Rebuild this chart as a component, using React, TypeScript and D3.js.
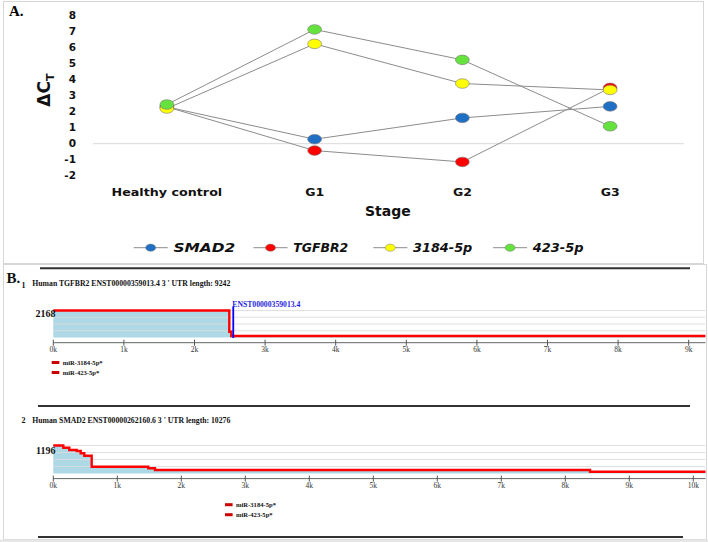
import React from "react";
import * as d3 from "d3";

// ---------- Panel A data ----------
const stages = ["Healthy control", "G1", "G2", "G3"];
const smad2 = [2.3, 0.28, 1.61, 2.33];
const tgfbr2 = [2.3, -0.43, -1.14, 3.49];
const mir3184 = [2.2, 6.24, 3.76, 3.36];
const mir423 = [2.45, 7.14, 5.24, 1.09];
const seriesNames = ["SMAD2", "TGFBR2", "3184-5p", "423-5p"];
const seriesColors = ["#1f6fc5", "#ff0000", "#ffff00", "#66e23e"];
const yTicks = [-2, -1, 0, 1, 2, 3, 4, 5, 6, 7, 8];

// ---------- Panel B data ----------
const tgfbr2UtrStarts = [0, 2493, 2521];
const tgfbr2UtrCounts = [2168, 466, 120];
const tgfbr2UtrLength = 9242;
const tgfbr2Transcript = "ENST00000359013.4";
const tgfbr2TranscriptPos = 2549;

const smad2UtrStarts = [0, 156, 250, 366, 428, 484, 600, 1484, 1589, 8386];
const smad2UtrCounts = [1196, 1102, 1004, 961, 863, 760, 290, 222, 150, 77];
const smad2UtrLength = 10276;

const mirLegend = ["miR-3184-5p*", "miR-423-5p*"];
const gridFractions = [0.25, 0.5, 0.75, 1];

const SANS = "DejaVu Sans, Verdana, sans-serif";
const SERIF = "Liberation Serif, Times New Roman, serif";

function PanelA() {
  const x = d3.scalePoint<string>().domain(stages).range([93, 684]).padding(0.5);
  const y = d3.scaleLinear().domain([-2, 8]).range([175.7, 15.7]);
  const series = [smad2, tgfbr2, mir3184, mir423];
  const line = d3
    .line<number>()
    .x((_, i) => x(stages[i]) as number)
    .y((d) => y(d));
  const labelLen = (s: string) => (s.length > 3 ? 110.7 : 19);
  const legendTextLen = [61.7, 55, 59.3, 50.7];
  return (
    <g>
      <rect x={3.5} y={1.5} width={700} height={262} fill="none" stroke="#d6d6d6" />
      <text x={9} y={16} fontFamily={SERIF} fontWeight="bold" fontSize={15}>A.</text>
      {/* zero line */}
      <line x1={93} x2={684} y1={y(0)} y2={y(0)} stroke="#d9d9d9" strokeWidth={1} />
      {yTicks.map((t) => (
        <text key={t} x={76} y={y(t)} dy="0.36em" textAnchor="end" fontFamily={SANS}
          fontWeight="bold" fontSize={10.5} fill="#111">{t}</text>
      ))}
      <text transform="translate(50,106.7) rotate(-90)" fontFamily={SANS} fontWeight="bold"
        fontSize={17} fill="#111">ΔC<tspan dy={4} fontSize={11}>T</tspan></text>
      {series.map((s, i) => (
        <path key={i} d={line(s) as string} fill="none" stroke="#8c8c8c" strokeWidth={1} />
      ))}
      {series.map((s, i) =>
        s.map((v, j) => (
          <ellipse key={i + "-" + j} cx={x(stages[j]) as number} cy={y(v)} rx={6.9} ry={4.8}
            fill={seriesColors[i]} stroke="#777" strokeWidth={0.6} />
        ))
      )}
      {stages.map((s) => (
        <text key={s} x={x(s) as number} y={191.6} dy="0.36em" textAnchor="middle"
          fontFamily={SANS} fontWeight="bold" fontSize={11} fill="#111"
          textLength={labelLen(s)} lengthAdjust="spacingAndGlyphs">{s}</text>
      ))}
      <text x={387.8} y={210.7} dy="0.36em" textAnchor="middle" fontFamily={SANS}
        fontWeight="bold" fontSize={14} fill="#111">Stage</text>
      {seriesNames.map((n, i) => {
        const cx = 150.7 + i * 119.8;
        const cy = 247.7;
        return (
          <g key={n}>
            <line x1={cx - 17} x2={cx + 17} y1={cy} y2={cy} stroke="#8c8c8c" strokeWidth={1} />
            <ellipse cx={cx} cy={cy} rx={5} ry={3.6} fill={seriesColors[i]} stroke="#777" strokeWidth={0.5} />
            <text x={cx + 22.7} y={cy} dy="0.36em" fontFamily={SANS} fontWeight="bold"
              fontStyle="italic" fontSize={11.5} fill="#111" textLength={legendTextLen[i]}
              lengthAdjust="spacingAndGlyphs">{n}</text>
          </g>
        );
      })}
    </g>
  );
}

type UtrProps = {
  starts: number[];
  counts: number[];
  length: number;
  kPx: number;
  axisY: number;
  baseY: number;
  plotH: number;
  maxLabelDy: number;
  legendX: number;
  legendY: number;
  transcript?: string;
  transcriptPos?: number;
  clipId: string;
};

function UtrProfile(p: UtrProps) {
  const x = d3.scaleLinear().domain([0, p.length]).range([53.3, 53.3 + (p.length / 1000) * p.kPx]);
  const maxC = d3.max(p.counts) as number;
  const y = d3.scaleLinear().domain([0, maxC]).range([p.baseY, p.baseY - p.plotH]);
  const pts = p.starts.map((s, i) => [s, p.counts[i]] as [number, number]);
  pts.push([p.length, p.counts[p.counts.length - 1]]);
  const area = d3
    .area<[number, number]>()
    .x((d) => x(d[0]))
    .y0(p.baseY)
    .y1((d) => y(d[1]))
    .curve(d3.curveStepAfter);
  const line = d3
    .line<[number, number]>()
    .x((d) => x(d[0]))
    .y((d) => y(d[1]))
    .curve(d3.curveStepAfter);
  const ticks = d3.range(0, Math.floor(p.length / 1000) + 1).map((k) => k * 1000);
  const rightX = 705.5;
  return (
    <g>
      <defs>
        <clipPath id={p.clipId}>
          <rect x={40} y={p.baseY - p.plotH - 20} width={rightX - 40} height={p.plotH + 40} />
        </clipPath>
      </defs>
      <g clipPath={`url(#${p.clipId})`}>
        <path d={area(pts) as string} fill="#add8e6" />
        {gridFractions.map((f) => (
          <line key={f} x1={53.3} x2={rightX} y1={y(maxC * f)} y2={y(maxC * f)}
            stroke="#dcdcdc" strokeOpacity={0.85} strokeWidth={1} />
        ))}
        <path d={line(pts) as string} fill="none" stroke="#ff0000" strokeWidth={2.4} />
      </g>
      {p.transcript && p.transcriptPos !== undefined && (
        <g>
          <line x1={x(p.transcriptPos)} x2={x(p.transcriptPos)} y1={p.baseY - p.plotH - 4}
            y2={p.baseY + 0.5} stroke="#0000ff" strokeWidth={1.8} />
          <text x={x(p.transcriptPos) - 1} y={p.baseY - p.plotH - 4} fontFamily={SERIF}
            fontWeight="bold" fontSize={7.7} fill="#1f1fe0">{p.transcript}</text>
        </g>
      )}
      <text x={55.5} y={y(maxC) + p.maxLabelDy} textAnchor="end" fontFamily={SERIF}
        fontWeight="bold" fontSize={10} fill="#111">{maxC}</text>
      <line x1={53.3} x2={rightX} y1={p.axisY} y2={p.axisY} stroke="#666" strokeWidth={1} />
      {ticks.map((t) => (
        <g key={t}>
          <line x1={x(t)} x2={x(t)} y1={p.axisY - 3} y2={p.axisY + 3} stroke="#555" strokeWidth={1} />
          <text x={x(t)} y={p.axisY + 9.5} textAnchor="middle" fontFamily={SERIF}
            fontSize={7.5} fill="#333">{t / 1000 + "k"}</text>
        </g>
      ))}
      {mirLegend.map((m, i) => (
        <g key={m}>
          <rect x={p.legendX} y={p.legendY + i * 10 - 1.5} width={7.6} height={3}
            fill="#cc0000" />
          <text x={p.legendX + 11} y={p.legendY + i * 10 + 2.3} fontFamily={SERIF}
            fontWeight="bold" fontSize={6.6} fill="#111">{m}</text>
        </g>
      ))}
    </g>
  );
}

function PanelB() {
  return (
    <g>
      <rect x={3.5} y={264.5} width={703} height={275} fill="none" stroke="#d6d6d6" />
      <rect x={0} y={539.5} width={708} height={3} fill="#e6e6e6" />
      <line x1={40} x2={690} y1={268.3} y2={268.3} stroke="#333" strokeWidth={2} />
      <text x={6.5} y={283.3} fontFamily={SERIF} fontWeight="bold" fontSize={15} fill="#111">B.</text>
      <text x={21.5} y={288} fontFamily={SERIF} fontWeight="bold" fontSize={8} fill="#111">1</text>
      <text x={32.3} y={286} fontFamily={SERIF} fontWeight="bold" fontSize={8} fill="#111"
        textLength={198} lengthAdjust="spacingAndGlyphs">Human TGFBR2 ENST00000359013.4 3 ' UTR length: 9242</text>
      <UtrProfile starts={tgfbr2UtrStarts} counts={tgfbr2UtrCounts} length={tgfbr2UtrLength}
        kPx={70.6} axisY={342.7} baseY={337.5} plotH={27} maxLabelDy={6.8}
        legendX={51.7} legendY={362.5} transcript={tgfbr2Transcript}
        transcriptPos={tgfbr2TranscriptPos} clipId="clip1" />
      <line x1={38} x2={690} y1={406} y2={406} stroke="#333" strokeWidth={2} />
      <text x={21.5} y={422.7} fontFamily={SERIF} fontWeight="bold" fontSize={8} fill="#111">2</text>
      <text x={32.3} y={422.5} fontFamily={SERIF} fontWeight="bold" fontSize={8} fill="#111"
        textLength={198} lengthAdjust="spacingAndGlyphs">Human SMAD2 ENST00000262160.6 3 ' UTR length: 10276</text>
      <UtrProfile starts={smad2UtrStarts} counts={smad2UtrCounts} length={smad2UtrLength}
        kPx={64} axisY={478.6} baseY={473.5} plotH={28} maxLabelDy={8}
        legendX={225} legendY={504.7} clipId="clip2" />
      <line x1={38} x2={683} y1={537} y2={537} stroke="#333" strokeWidth={2} />
    </g>
  );
}

export default function App() {
  return (
    <svg width={708} height={542} viewBox="0 0 708 542"
      style={{ position: "fixed", left: 0, top: 0, background: "#fff", display: "block" }}>
      <rect x={0} y={0} width={708} height={542} fill="#fff" />
      <PanelA />
      <PanelB />
    </svg>
  );
}
